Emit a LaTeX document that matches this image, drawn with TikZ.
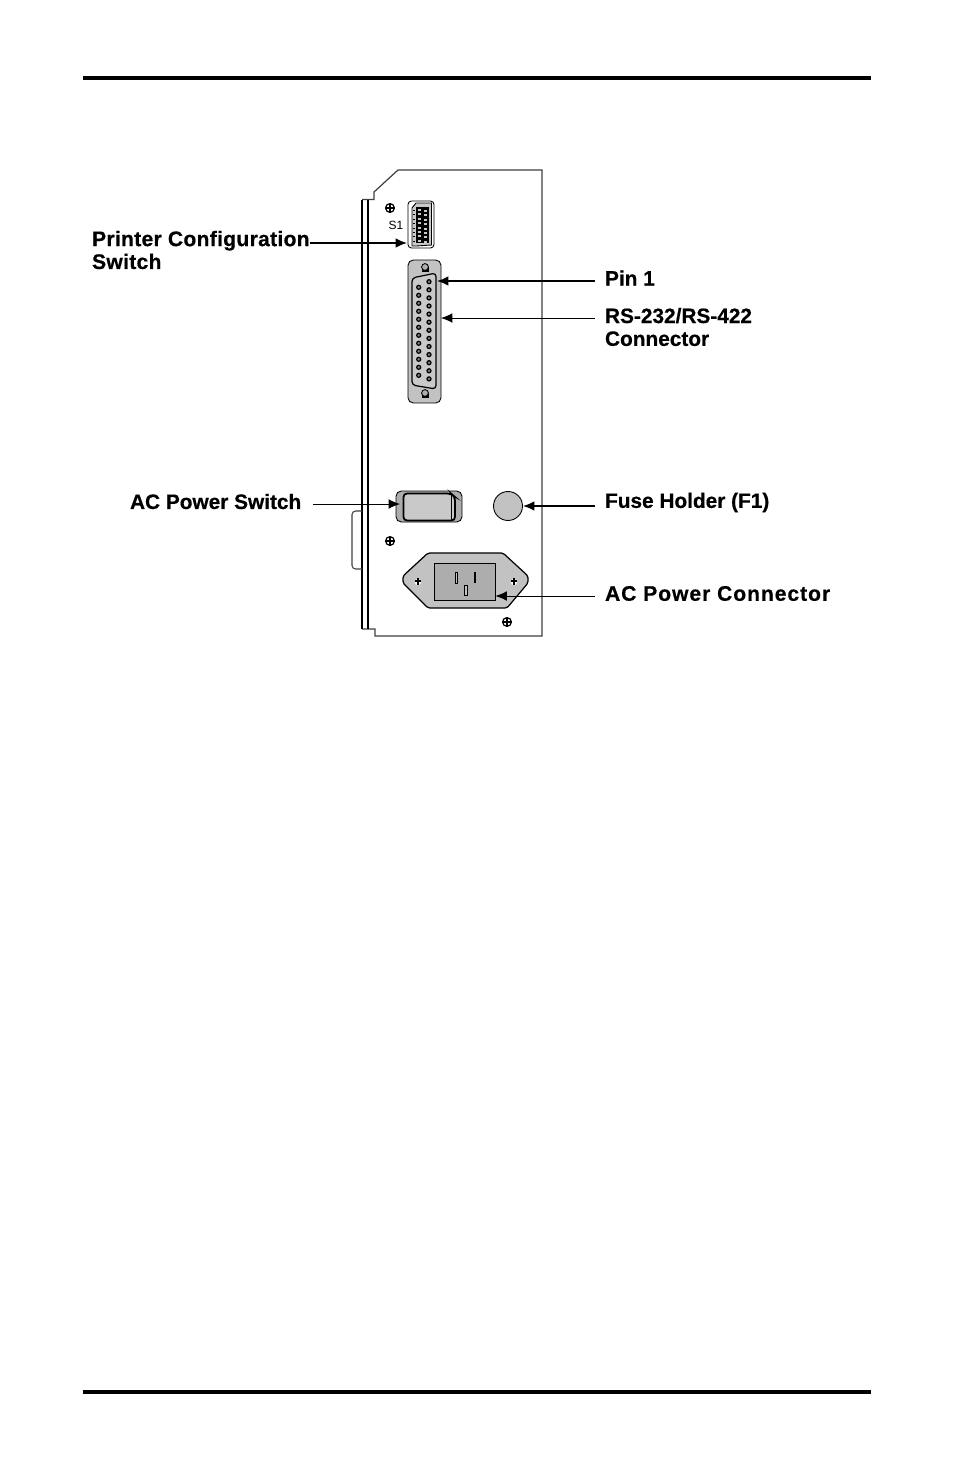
\documentclass[tikz,border=0pt]{standalone}
\usepackage{fontspec}
\setmainfont[BoldFeatures={FakeBold=0.5}]{Liberation Sans}
\usepackage{tikz}
\usetikzlibrary{arrows.meta,shapes,positioning,calc}

\definecolor{platefill}{gray}{0.76}
\definecolor{shellfill}{gray}{0.79}
\definecolor{inletfill}{gray}{0.68}
\definecolor{pinfill}{gray}{0.50}
\definecolor{bodyline}{gray}{0.25}

\tikzset{
	lbl/.style={font=\fontsize{11.85}{13}\selectfont\bfseries,anchor=west,align=left,inner sep=0pt,text=black},
	callout/.style={-{Latex[length=6.5pt,width=5.5pt]},black,line width=0.5pt},
	calloutthick/.style={callout,line width=1.0pt},
	part/.style={draw=black,line width=0.5pt,inner sep=0pt},
	pin/.style={draw=black,fill=pinfill,line width=0.7pt},
}

% cross-head screw
\newcommand{\screwmark}[1]{
	\draw[black,line width=0.7pt,fill=white] (#1) circle (4.4);
	\draw[black,line width=1.2pt] ($(#1)+(-4.4,0)$) -- ($(#1)+(4.4,0)$) ($(#1)+(0,-4.4)$) -- ($(#1)+(0,4.4)$);
}

\begin{document}
\begin{tikzpicture}[x=0.02cm,y=-0.02cm]
	\useasboundingbox (0,0) rectangle (954,1474);

	% page rules
	\draw[black,line width=2.3pt] (83,78)   -- (871,78);
	\draw[black,line width=2.3pt] (83,1392) -- (871,1392);

	% back panel
	\draw[bodyline,line width=0.7pt] (362,199.5) -- (374,199.5) -- (374,192) -- (398,170) -- (542,170) -- (542,636) -- (375,636) -- (375,629) -- (362,629);
	\draw[black,line width=1.4pt] (362,199.5) -- (362,629);
	\draw[black,line width=0.6pt] (368,199.5) -- (368,629);
	\draw[bodyline,line width=0.6pt,rounded corners=2] (362,511) -- (352,511) -- (352,569) -- (362,569);

	% S1 switch
	\node[part,rounded corners=2,minimum width=0.52cm,minimum height=0.94cm] (swbox) at (421,224.5) {};
	\draw[black,line width=0.5pt,fill=shellfill] (412,246) -- (412,208) -- (416,203) -- (431.5,203) -- (431.5,245) -- (416,246) -- cycle;
	\fill[black] (416,207) rectangle (429,243);
	\foreach \k in {0,...,7} {
		\fill[shellfill] (418,{209+\k*4.4}) rectangle (420.5,{211+\k*4.4});
		\fill[shellfill] (424,{210+\k*4.4}) rectangle (426.5,{212+\k*4.4});
		\fill[black] (412.5,{210+\k*4.4}) rectangle (415,{211+\k*4.4});
	}
	\node[font=\fontsize{6.8}{8}\selectfont,inner sep=0pt] (swname) at (396,225) {S1};
	\screwmark{390,208}

	% RS-232/RS-422 connector
	\node[part,fill=platefill,rounded corners=3,minimum width=0.66cm,minimum height=2.86cm] (dbplate) at (424.5,331.5) {};
	\draw[black,line width=0.7pt,fill=shellfill,rounded corners=2] (412,278) -- (436,273) -- (436,389) -- (412,385) -- cycle;
	\foreach \y in {267,393} {
		\fill[black] (421.5,\y) rectangle (428.5,\y+5);
		\draw[black,line width=0.5pt,fill=inletfill] (425,\y) circle (3.4);
	}
	\foreach \k in {0,...,12}
		\draw[pin] (429,{281.7+\k*8.1}) circle (2);
	\foreach \k in {0,...,11}
		\draw[pin] (418.7,{287.3+\k*8}) circle (2);

	% power switch and fuse holder
	\node[part,fill=inletfill,rounded corners=3,minimum width=1.32cm,minimum height=0.62cm] (rocker) at (429,506.5) {};
	\draw[black,line width=1.0pt,fill=shellfill,rounded corners=2] (403.5,493.5) -- (451,493.5) -- (455,497) -- (455,520.5) -- (403.5,520.5) -- cycle;
	\draw[black,line width=0.5pt] (451,495) -- (451,520.5);
	\node[part,fill=platefill,circle,minimum size=0.58cm] (fuse) at (508,506) {};
	\screwmark{390,541}

	% AC inlet
	\draw[black,line width=0.7pt,fill=platefill,rounded corners=1] (403,576) -- (428,553) -- (503,553) -- (528,576) -- (528,583) -- (507,608) -- (428,608) -- (403,583) -- cycle;
	\node[part,fill=inletfill,minimum width=1.22cm,minimum height=0.74cm] (inlet) at (464.5,581.5) {};
	\draw[black,line width=0.5pt,fill=platefill] (455.3,572) rectangle (457.7,583);
	\draw[black,line width=1.0pt] (475,572) -- (475,583);
	\draw[black,line width=0.5pt,fill=platefill] (464.5,585) rectangle (467.5,595.5);
	\foreach \x in {418,514} {
		\fill[white] (\x,582) circle (3.2);
		\draw[black,line width=0.9pt] (\x-3,581) -- (\x+3,581) (\x,578) -- (\x,585);
	}
	\screwmark{507,622}

	% labels
	\node[lbl,font=\fontsize{12}{13}\selectfont\bfseries\addfontfeature{LetterSpace=1.4}] (cfglabel) at (91.7,250) {Printer Configuration\\Switch};
	\node[lbl] (pinlabel)  at (604.7,278) {Pin 1};
	\node[lbl] (rslabel)   at (604.7,327) {RS-232/RS-422\\Connector};
	\node[lbl] (swlabel) at (129.7,501.5) {AC Power Switch};
	\node[lbl] (fuselabel) at (604.7,502.5) {Fuse Holder (F1)};
	\node[lbl,font=\fontsize{12}{13}\selectfont\bfseries\addfontfeature{LetterSpace=4.5}] (aclabel) at (604.7,593.5) {AC Power Connector};

	% arrow tips
	\coordinate (cfgtip)  at (407,243);
	\coordinate (pintip)  at (437,281);
	\coordinate (rstip)   at (441,318);
	\coordinate (swtip)   at (400,504);
	\coordinate (fusetip) at (fuse.east);
	\coordinate (actip)   at (inlet.east |- 0,596);
	\coordinate (cfgfrom) at (310,243);
	\coordinate (swfrom)  at (313,504);

	% callouts
	\draw[calloutthick] (cfgfrom) -- (cfgtip);
	\draw[calloutthick] ($(pinlabel.west |- pintip)+(-10,0)$) -- (pintip);
	\draw[callout] ($(rslabel.west |- rstip)+(-10,0)$) -- (rstip);
	\draw[callout] (swfrom) -- (swtip);
	\draw[calloutthick] ($(fuselabel.west |- fusetip)+(-10,0)$) -- (fusetip);
	\draw[callout] ($(aclabel.west |- actip)+(-10,0)$) -- (actip);
\end{tikzpicture}
\end{document}
